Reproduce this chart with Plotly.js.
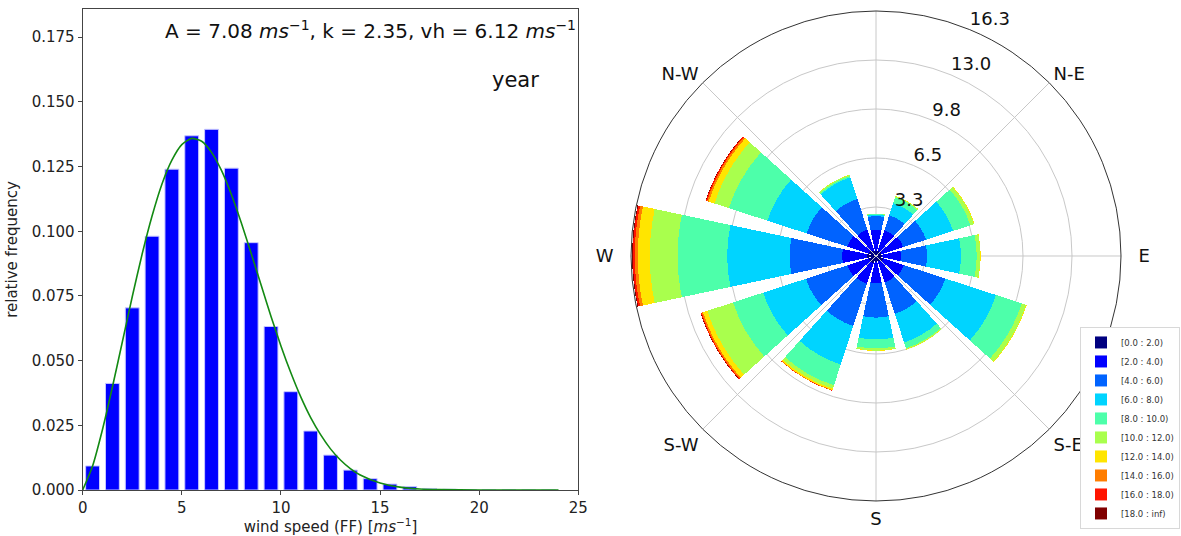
<!DOCTYPE html>
<html>
<head>
<meta charset="utf-8">
<script src="https://cdn.plot.ly/plotly-3.0.1.min.js"></script>
<style>
  html, body { margin: 0; padding: 0; background: #ffffff; }
  #chart { width: 1181px; height: 536px; }
</style>
</head>
<body>
<div id="chart"></div>
<script>
// ---- wind speed histogram (relative frequency per 1 m/s bin) ----
const binCentres = [0.5, 1.5, 2.5, 3.5, 4.5, 5.5, 6.5, 7.5, 8.5, 9.5, 10.5, 11.5,
                    12.5, 13.5, 14.5, 15.5, 16.5, 17.5, 18.5, 19.5, 20.5, 21.5, 22.5, 23.5];
const relFreq = [0.0093, 0.0412, 0.0704, 0.0981, 0.1240, 0.1369, 0.1394, 0.1244,
                 0.0956, 0.0632, 0.0380, 0.0228, 0.0135, 0.0077, 0.0044, 0.0023,
                 0.0013, 0.0006, 0.0003, 0.0002, 0.0001, 0.0001, 0.00005, 0.00003];

// ---- fitted Weibull density (A = 7.08, k = 2.35) ----
const fitSpeed = [0, 0.5, 1, 1.5, 2, 2.5, 3, 3.5, 4, 4.5, 5, 5.5, 6, 6.5, 7, 7.5, 8,
                  8.5, 9, 9.5, 10, 10.5, 11, 11.5, 12, 12.5, 13, 13.5, 14, 15, 16,
                  17, 18, 20, 22, 24];
const fitDensity = [0, 0.0093, 0.0234, 0.0398, 0.0572, 0.0747, 0.0912, 0.1059, 0.1183,
                    0.1275, 0.1335, 0.1359, 0.1348, 0.1305, 0.1235, 0.1142, 0.1033,
                    0.0914, 0.0792, 0.0671, 0.0557, 0.0453, 0.0360, 0.0280, 0.0214,
                    0.0159, 0.0116, 0.0083, 0.0058, 0.0027, 0.0011, 0.0004, 0.00015,
                    0.00001, 0, 0];
const yTicks = [0, 0.025, 0.05, 0.075, 0.1, 0.125, 0.15, 0.175];
const xTicks = [0, 5, 10, 15, 20, 25];

// ---- wind rose: frequency (%) per direction sector and speed class ----
const directions = [0, 30, 60, 90, 120, 150, 180, 210, 240, 270, 300, 330];
const compassTicks = [0, 45, 90, 135, 180, 225, 270, 315];
// non-breaking spaces keep the E and W labels clear of the rim
const compassLabels = ['', 'N-E', '\u00a0\u00a0E', 'S-E', 'S', 'S-W', 'W\u00a0\u00a0', 'N-W'];
const radialTicks = [3.26, 6.52, 9.78, 13.04, 16.3];
const radialLabels = ['3.3', '6.5', '9.8', '13.0', '16.3'];
const radialLabelBearing = 22.5;
const speedClasses = ['[0.0 : 2.0)', '[2.0 : 4.0)', '[4.0 : 6.0)', '[6.0 : 8.0)',
                      '[8.0 : 10.0)', '[10.0 : 12.0)', '[12.0 : 14.0)', '[14.0 : 16.0)',
                      '[16.0 : 18.0)', '[18.0 : inf)'];
const ws00_02 = [0.30, 0.35, 0.40, 0.40, 0.50, 0.40, 0.40, 0.50, 0.50, 0.60, 0.50, 0.40];
const ws02_04 = [1.45, 1.45, 1.50, 1.25, 1.45, 1.45, 1.40, 1.45, 1.50, 1.65, 1.50, 1.45];
const ws04_06 = [0.90, 1.05, 1.60, 1.75, 2.90, 2.20, 2.30, 2.95, 2.90, 3.50, 2.85, 2.15];
const ws06_08 = [0.10, 0.85, 1.90, 2.25, 3.55, 2.00, 1.45, 2.70, 3.00, 4.15, 2.75, 1.50];
const ws08_10 = [0.05, 0.40, 1.20, 1.05, 1.80, 0.40, 0.60, 1.45, 2.10, 3.30, 2.70, 0.10];
const ws10_12 = [0.02, 0.08, 0.25, 0.25, 0.30, 0.08, 0.15, 0.23, 1.80, 1.85, 1.00, 0.08];
const ws12_14 = [0.00, 0.02, 0.05, 0.02, 0.05, 0.02, 0.02, 0.10, 0.30, 0.80, 0.40, 0.02];
const ws14_16 = [0, 0, 0, 0, 0, 0, 0, 0.04, 0.10, 0.20, 0.12, 0];
const ws16_18 = [0, 0, 0, 0, 0, 0, 0, 0.01, 0.06, 0.13, 0.08, 0];
const ws18_inf = [0, 0, 0, 0, 0, 0, 0, 0, 0.02, 0.04, 0.02, 0];
const classFreqs = [ws00_02, ws02_04, ws04_06, ws06_08, ws08_10,
                    ws10_12, ws12_14, ws14_16, ws16_18, ws18_inf];

// jet colour map sampled at ten steps
const jetColours = ['#000080', '#0000ff', '#0063ff', '#00d4ff', '#4dffaa',
                    '#a9ff4d', '#ffe500', '#ff7d00', '#ff1400', '#800000'];

const FONT = 'DejaVu Sans, Liberation Sans, sans-serif';
const INK = '#222222';

const traces = [];

traces.push({
  type: 'bar',
  x: binCentres,
  y: relFreq,
  width: 0.7,
  marker: { color: '#0000ff', line: { color: '#c8c8ff', width: 1 } },
  xaxis: 'x', yaxis: 'y',
  showlegend: false,
  hoverinfo: 'x+y'
});

traces.push({
  type: 'scatter',
  mode: 'lines',
  x: fitSpeed,
  y: fitDensity,
  line: { color: '#138a13', width: 1.6, shape: 'spline', smoothing: 0.6 },
  xaxis: 'x', yaxis: 'y',
  showlegend: false
});

classFreqs.forEach(function (freq, i) {
  traces.push({
    type: 'barpolar',
    r: freq,
    theta: directions,
    width: 24,
    name: speedClasses[i],
    legendgroup: 'c' + i,
    marker: { color: jetColours[i], line: { width: 0 } },
    subplot: 'polar'
  });
});

// radial tick labels set along one bearing, as in a classic wind rose
traces.push({
  type: 'scatterpolar',
  mode: 'text',
  r: radialTicks,
  theta: radialTicks.map(function () { return radialLabelBearing; }),
  text: radialLabels,
  textposition: 'top right',
  textfont: { size: 18, color: '#111', family: FONT },
  cliponaxis: false,
  showlegend: false,
  hoverinfo: 'skip',
  subplot: 'polar'
});

const layout = {
  width: 1181,
  height: 536,
  margin: { l: 0, r: 0, t: 0, b: 0 },
  paper_bgcolor: '#ffffff',
  plot_bgcolor: '#ffffff',
  font: { family: FONT, color: INK },
  bargap: 0,
  xaxis: {
    domain: [0.0700, 0.4897],
    range: [0, 25],
    tickvals: xTicks,
    ticks: 'outside', ticklen: 4, tickcolor: '#444',
    showline: true, mirror: true, linecolor: '#444', linewidth: 1,
    showgrid: false, zeroline: false,
    tickfont: { size: 15, color: INK },
    title: { text: 'wind speed (FF) [<i>ms</i><sup>−1</sup>]', font: { size: 15, color: INK }, standoff: 7 }
  },
  yaxis: {
    domain: [0.0858, 0.9832],
    range: [0, 0.1859],
    tickvals: yTicks,
    tickformat: '.3f',
    ticks: 'outside', ticklen: 4, tickcolor: '#444',
    showline: true, mirror: true, linecolor: '#444', linewidth: 1,
    showgrid: false, zeroline: false,
    tickfont: { size: 15, color: INK },
    title: { text: 'relative frequency', font: { size: 15, color: INK }, standoff: 10 }
  },
  polar: {
    domain: { x: [0.5343, 0.9492], y: [0.0653, 0.9795] },
    bgcolor: '#ffffff',
    barmode: 'stack',
    angularaxis: {
      rotation: 90,
      direction: 'clockwise',
      tickmode: 'array',
      tickvals: compassTicks,
      ticktext: compassLabels,
      ticks: 'outside', ticklen: 2, tickcolor: 'rgba(0,0,0,0)',
      showline: true, linecolor: '#333', linewidth: 1,
      showgrid: true, gridcolor: '#c8c8c8', gridwidth: 1,
      tickfont: { size: 18, color: '#111' }
    },
    radialaxis: {
      range: [0, 16.3],
      angle: 67.5,
      tickmode: 'array',
      tickvals: radialTicks,
      showticklabels: false,
      ticks: '',
      showline: false,
      showgrid: true, gridcolor: '#c8c8c8', gridwidth: 1
    }
  },
  legend: {
    x: 0.9145, y: 0.390, xanchor: 'left', yanchor: 'top',
    bgcolor: '#ffffff', bordercolor: '#d8d8d8', borderwidth: 1,
    font: { size: 8.5, color: '#333' },
    tracegroupgap: 1.6,
    traceorder: 'normal'
  },
  annotations: [
    {
      xref: 'paper', yref: 'paper', x: 0.4894, y: 0.944,
      xanchor: 'right', yanchor: 'middle', showarrow: false,
      text: 'A = 7.08 <i>ms</i><sup>−1</sup>, k = 2.35, vh = 6.12 <i>ms</i><sup>−1</sup>',
      font: { size: 20, color: '#111' }
    },
    {
      xref: 'paper', yref: 'paper', x: 0.4369, y: 0.8507,
      xanchor: 'center', yanchor: 'middle', showarrow: false,
      text: 'year',
      font: { size: 21, color: '#111' }
    }
  ]
};

Plotly.newPlot('chart', traces, layout, { displayModeBar: false, staticPlot: true });
</script>
</body>
</html>
